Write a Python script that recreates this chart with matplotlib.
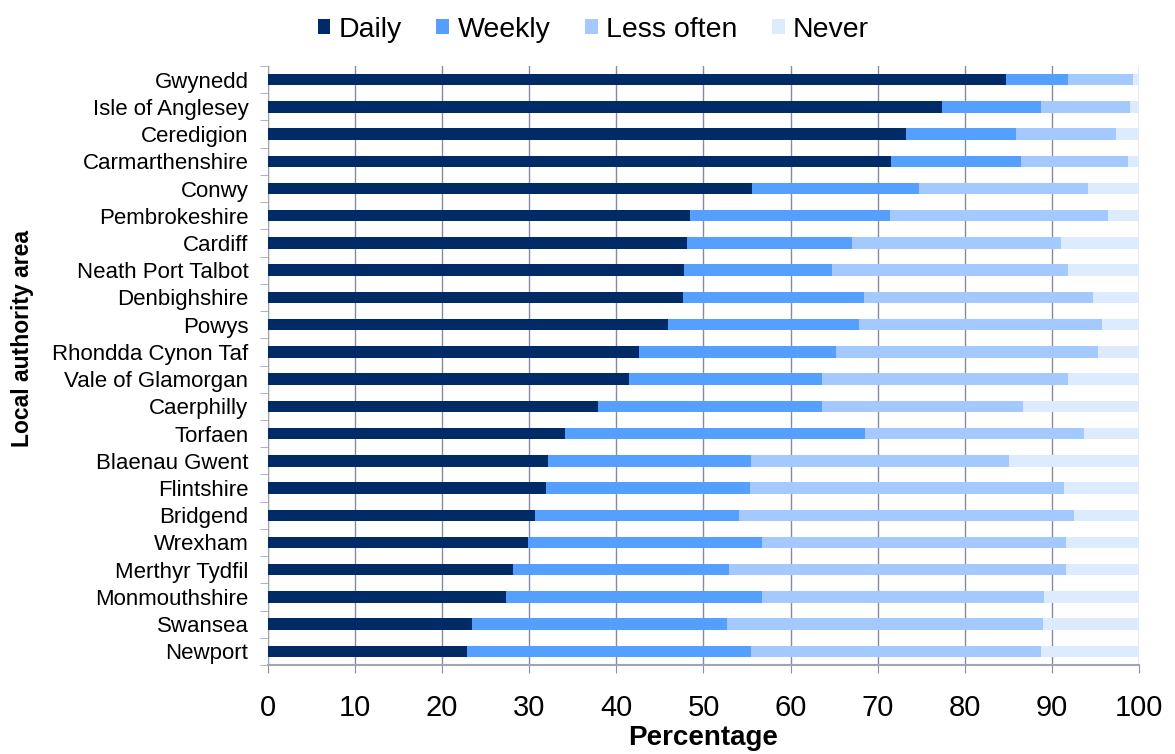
import matplotlib
matplotlib.use("Agg")
import matplotlib.pyplot as plt
import numpy as np

plt.rcParams["font.family"] = ["Liberation Sans", "DejaVu Sans"]

areas = ["Gwynedd", "Isle of Anglesey", "Ceredigion", "Carmarthenshire", "Conwy",
         "Pembrokeshire", "Cardiff", "Neath Port Talbot", "Denbighshire", "Powys",
         "Rhondda Cynon Taf", "Vale of Glamorgan", "Caerphilly", "Torfaen",
         "Blaenau Gwent", "Flintshire", "Bridgend", "Wrexham", "Merthyr Tydfil",
         "Monmouthshire", "Swansea", "Newport"]

daily = [84.7, 77.4, 73.3, 71.5, 55.6, 48.4, 48.1, 47.8, 47.7, 45.9, 42.6,
         41.4, 37.9, 34.1, 32.1, 31.9, 30.7, 29.8, 28.1, 27.3, 23.4, 22.8]
weekly = [7.2, 11.3, 12.6, 15.0, 19.1, 23.0, 19.0, 17.0, 20.7, 22.0, 22.6,
          22.2, 25.7, 34.4, 23.3, 23.4, 23.4, 26.9, 24.8, 29.4, 29.3, 32.6]
less_often = [7.4, 10.3, 11.5, 12.2, 19.4, 25.0, 23.9, 27.1, 26.3, 27.9, 30.1,
              28.3, 23.1, 25.2, 29.7, 36.1, 38.4, 34.9, 38.7, 32.4, 36.3, 33.4]
never = [0.7, 1.0, 2.6, 1.3, 5.9, 3.6, 9.0, 8.1, 5.3, 4.2, 4.7,
         8.1, 13.3, 6.3, 14.9, 8.6, 7.5, 8.4, 8.4, 10.9, 11.0, 11.2]

series = [("Daily", daily, "#002B66"),
          ("Weekly", weekly, "#559FFF"),
          ("Less often", less_often, "#A3C9FF"),
          ("Never", never, "#DDEBFF")]

fig = plt.figure(figsize=(11.75, 7.54), dpi=100)
ax = fig.add_axes([0.228, 0.118, 0.7414, 0.7945])

y = np.arange(len(areas))
left = np.zeros(len(areas))
for name, vals, col in series:
    vals = np.array(vals)
    ax.barh(y, vals, left=left, height=0.42, color=col, label=name, zorder=3)
    left += vals

ax.set_xlim(0, 100)
ax.set_ylim(len(areas) - 0.5, -0.5)
ax.set_xticks(np.arange(0, 101, 10))
ax.set_yticks(y)
ax.set_yticklabels(areas)
ax.set_yticks(np.arange(-0.5, len(areas), 1), minor=True)
ax.tick_params(axis="y", which="major", length=0, labelsize=16, pad=14)
ax.tick_params(axis="y", which="minor", length=6, color="#A0A4B4", direction="out")
ax.tick_params(axis="x", length=6, color="#8A8FA3", labelsize=21, pad=15)

ax.grid(axis="x", color="#868AA0", linewidth=1, zorder=0)
for s in ["top", "right"]:
    ax.spines[s].set_visible(False)
ax.spines["left"].set_color("#A0A4B4")
ax.spines["bottom"].set_color("#A0A4B4")
ax.spines["bottom"].set_linewidth(1.5)

ax.set_xlabel("Percentage", fontsize=20, fontweight="bold", labelpad=2)
ax.set_ylabel("Local authority area", fontsize=16.5, fontweight="bold")
ax.yaxis.set_label_coords(-0.268, 0.545)

fig.legend(loc="upper center", bbox_to_anchor=(0.505, 1.012), ncol=4, frameon=False,
           fontsize=20.5, handlelength=0.45, handleheight=0.45, handletextpad=0.3,
           columnspacing=1.2)

fig.savefig("out.png", dpi=100)
